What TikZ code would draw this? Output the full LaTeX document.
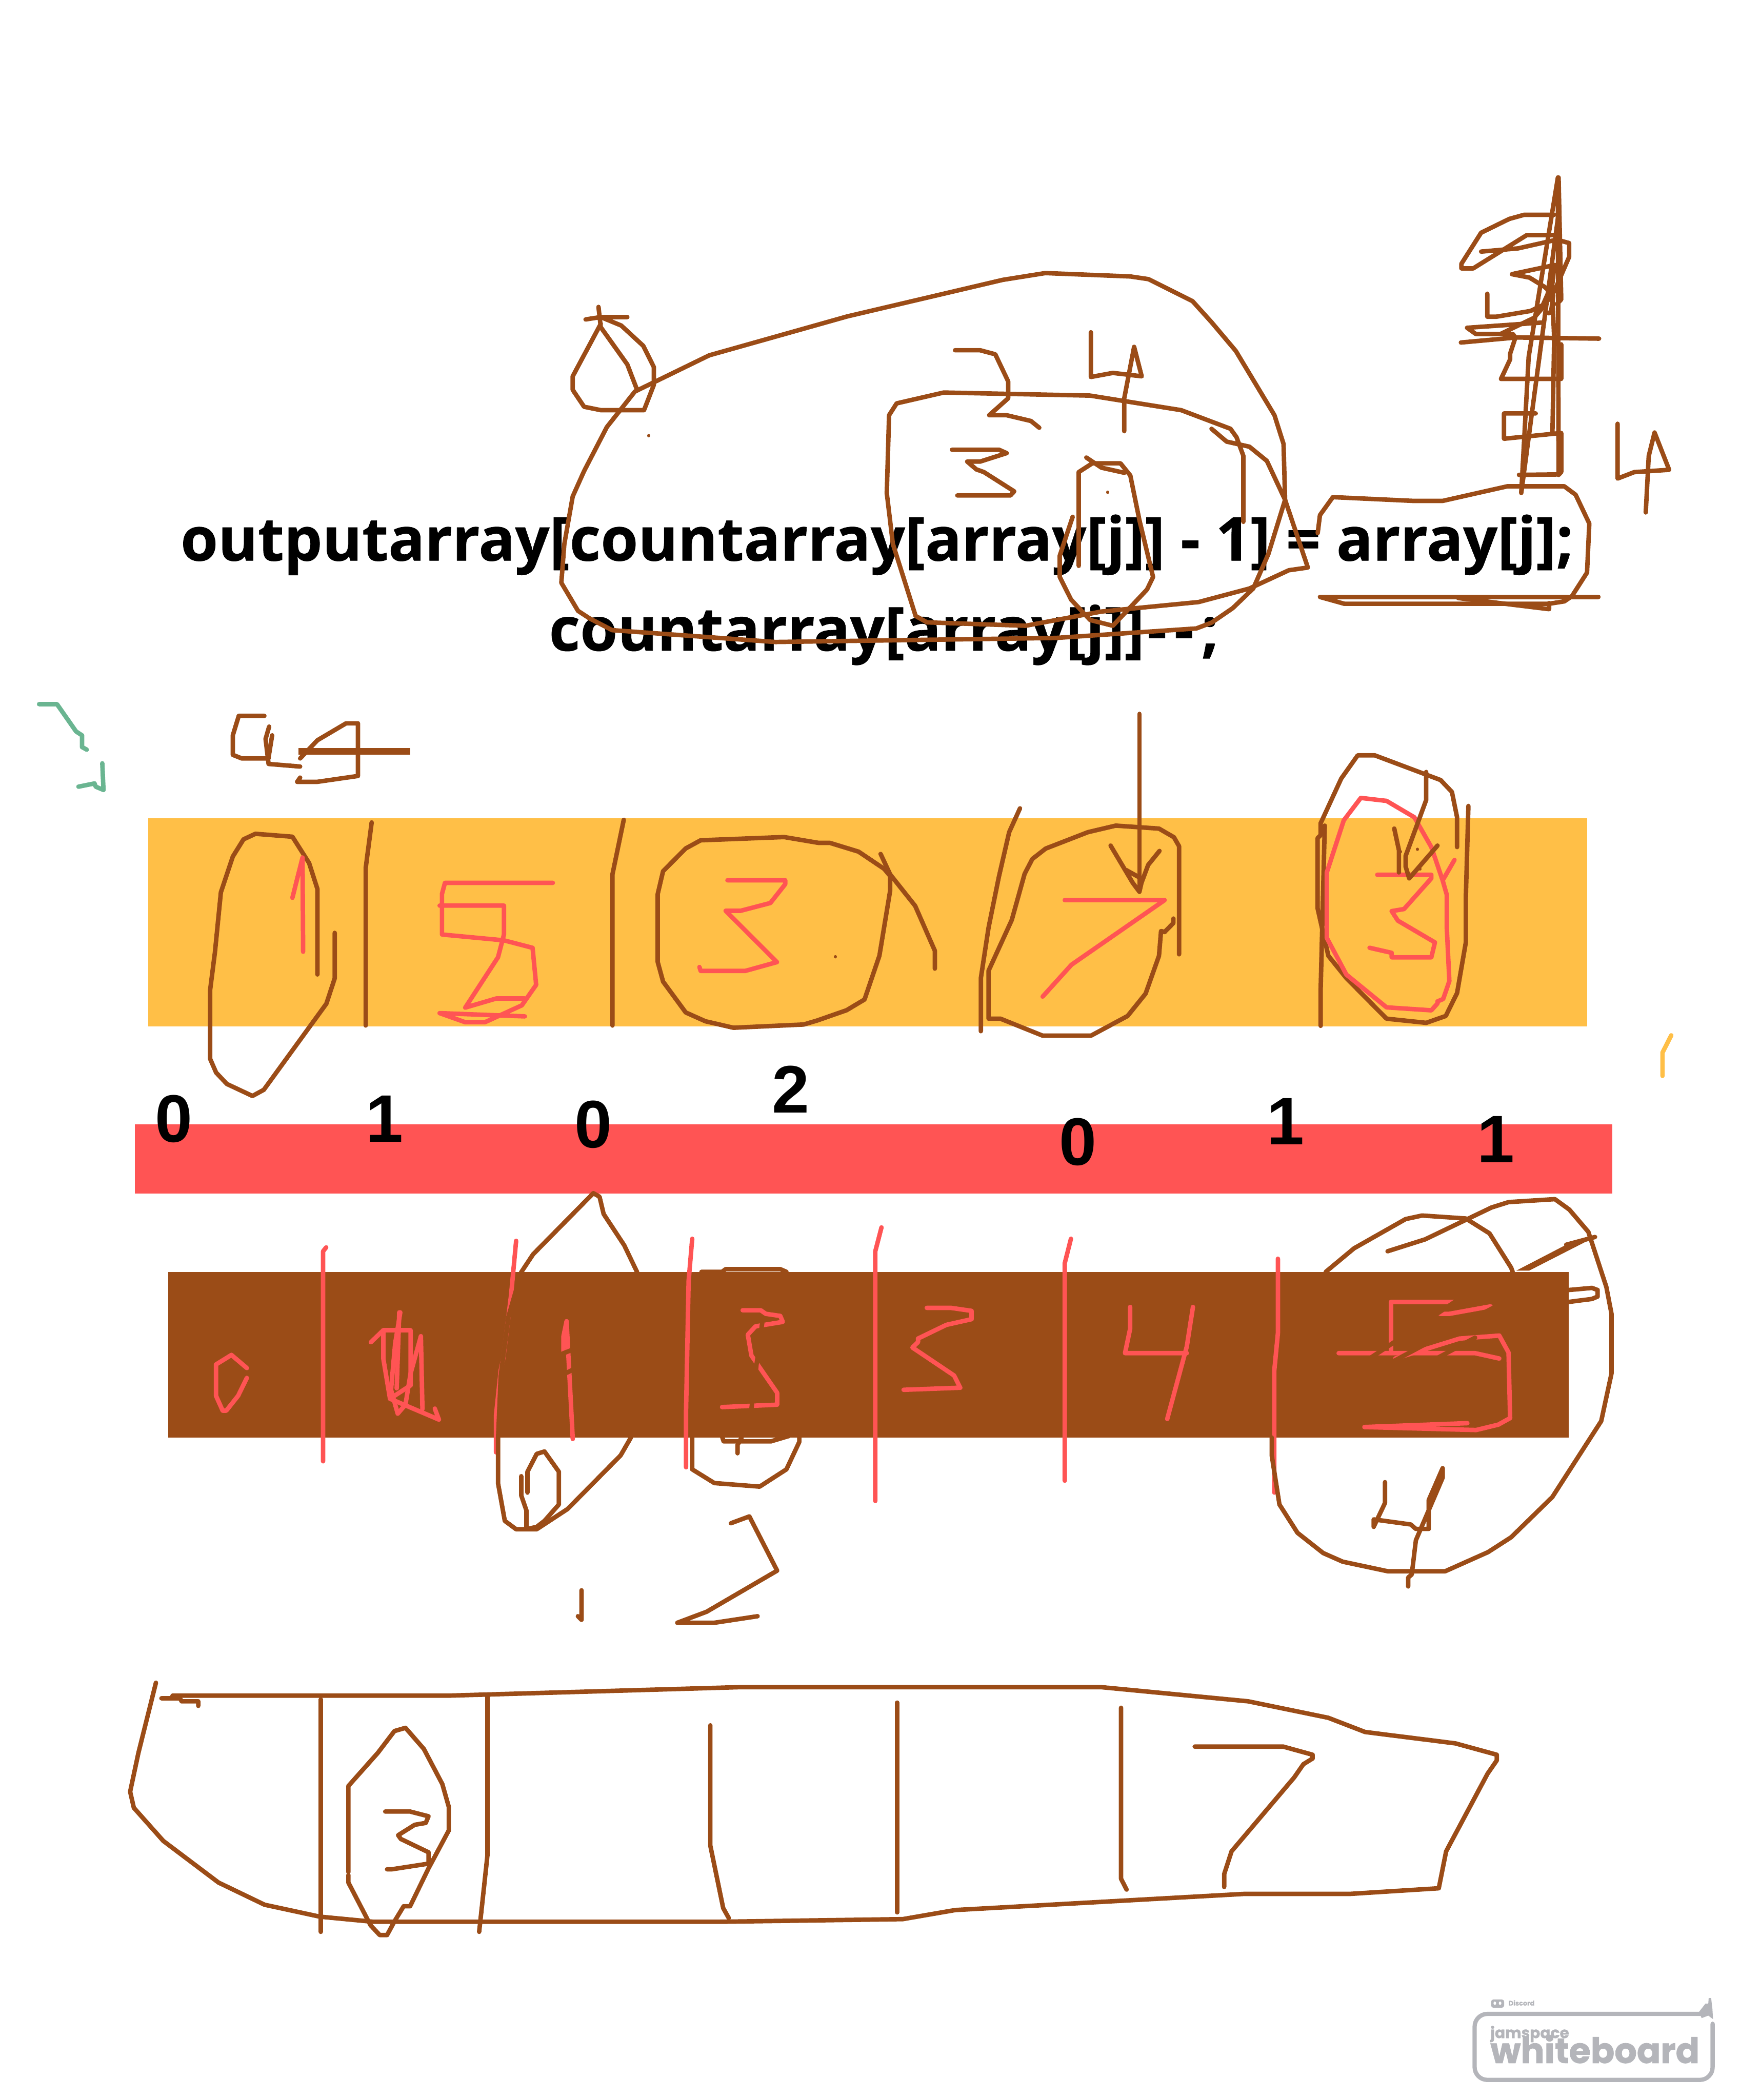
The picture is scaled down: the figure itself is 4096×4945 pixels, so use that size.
\documentclass[tikz,border=0pt]{standalone}
\usepackage{fontspec}
\newfontfamily\codefont[BoldFeatures={FakeBold=0.6}]{Open Sans}
\newfontfamily\digitfont{Liberation Sans}
\newfontfamily\logofont[BoldFeatures={FakeBold=1.2}]{Poppins}
\definecolor{penB}{RGB}{155,76,23}
\definecolor{penR}{RGB}{255,84,84}
\definecolor{penO}{RGB}{255,191,71}
\definecolor{penG}{RGB}{106,181,145}
\definecolor{logoG}{RGB}{180,181,186}
\tikzset{
  brushB/.style={draw=penB, line width=0.105cm, line cap=round, line join=round},
  brushR/.style={draw=penR, line width=0.105cm, line cap=round, line join=round},
  brushG/.style={draw=penG, line width=0.105cm, line cap=round, line join=round},
  brushO/.style={draw=penO, line width=0.105cm, line cap=round, line join=round},
  speck/.style={draw=penB, line width=0.07cm, line cap=round},
  codeline/.style={inner sep=0pt, anchor=base, font=\codefont\bfseries\fontsize{40.5}{50}\selectfont},
  tally/.style={inner sep=0pt, font=\digitfont\bfseries\fontsize{45}{54}\selectfont},
  % each zone takes the pixel numbers of one part of the sheet
  topzone/.style={shift={(1200,380)}, xscale=1.786, yscale=0.797},
  towerzone/.style={shift={(3350,380)}, xscale=0.4145, yscale=0.542},
  leftzone/.style={shift={(50,1600)}, xscale=1.403, yscale=0.765},
  rightzone/.style={shift={(2200,1700)}, xscale=1.212, yscale=0.7015},
  midleft/.style={shift={(300,2750)}, xscale=1.212, yscale=0.7015},
  midright/.style={shift={(2000,2750)}, xscale=1.212, yscale=0.7015},
  lowzone/.style={shift={(250,3900)}, xscale=2.168, yscale=0.446},
  logozone/.style={shift={(3400,4660)}, xscale=0.444, yscale=0.3314},
}
\begin{document}
\begin{tikzpicture}[x=0.01cm, y=-0.01cm]
\useasboundingbox (0,0) rectangle (4096,4945);
% the three bars
\fill[penO] (349,1927) rectangle (3737,2417);
\fill[penR] (317,2647) rectangle (3796,2811);
\fill[penB] (396,2995) rectangle (3693,3385);
% code lines
\node[codeline] (codeA) at (2065,1320) {outputarray[countarray[array[j]] - 1] = array[j];};
\node[codeline] (codeB) at (2081,1532) {countarray[array[j]]\kern2pt-\kern5pt-\kern5pt;};
% tallies on the red bar
\node[tally] (tallyA) at (409,2635) {0};
\node[tally] (tallyB) at (905,2635) {1};
\node[tally] (tallyC) at (1397,2648) {0};
\node[tally] (tallyD) at (1862,2565) {2};
\node[tally] (tallyE) at (2537,2689) {0};
\node[tally] (tallyF) at (3026,2641) {1};
\node[tally] (tallyG) at (3521,2683) {1};
% scribbles over the code
\begin{scope}[topzone]
\draw[brushB] (117,430) -- (120,490) -- (155,600) -- (167,670);
\draw[brushB] (100,467) -- (120,460) -- (155,460);
\draw[brushB] (120,480) -- (83,635) -- (83,675) -- (98,725) -- (120,735) -- (177,735) -- (190,660) -- (190,608) -- (176,545) -- (147,485) -- (120,460);
\draw[brushB] (165,680) -- (263,573) -- (445,458) -- (650,350) -- (706,330) -- (818,340) -- (842,348) -- (900,413) -- (925,475) -- (957,560) -- (1008,750) -- (1020,835) -- (1022,1000) -- (1000,1160) -- (980,1262) -- (953,1320) -- (925,1363) -- (905,1380) -- (720,1408) -- (350,1420) -- (135,1385) -- (105,1350) -- (90,1328) -- (68,1245) -- (72,1130) -- (83,990) -- (98,915) -- (128,785) -- cycle;
\draw[brushB] (925,790) -- (945,828) -- (975,843) -- (998,885) -- (1022,1000) -- (1052,1200) -- (1027,1208) -- (975,1262) -- (908,1302) -- (780,1330) -- (680,1372) -- (550,1362) -- (535,1343) -- (505,1130) -- (497,980) -- (500,750) -- (510,715) -- (572,683) -- (765,692) -- (885,735) -- (950,790) -- (958,815) -- (967,870) -- (967,1065);
\draw[brushB] (760,875) -- (780,905) -- (810,920);
\draw[brushB] (750,1195) -- (750,918) -- (768,892) -- (805,892) -- (818,928) -- (830,1060) -- (848,1228) -- (840,1265) -- (795,1372) -- (765,1355) -- (740,1295) -- (725,1228) -- (725,1165) -- (742,1050);
\draw[brushB] (587,558) -- (620,558) -- (640,570) -- (657,650) -- (657,700) -- (632,750) -- (655,750) -- (687,767) -- (698,787);
\draw[brushB] (766,505) -- (766,637) -- (795,625) -- (833,635) -- (823,548) -- (810,700) -- (810,797);
\draw[brushB] (583,852) -- (645,852) -- (655,862) -- (620,887) -- (603,887) -- (615,910) -- (625,918) -- (665,975) -- (660,987) -- (590,987);
\draw[speck] (183,810) -- (183,811);
\draw[speck] (788,977) -- (788,978);
\draw[brushB] (1065,1098) -- (1068,1045) -- (1085,992) -- (1190,1003) -- (1230,1003) -- (1315,960) -- (1390,960) -- (1405,985) -- (1423,1070) -- (1420,1215) -- (1400,1285) -- (1390,1300) -- (1370,1307) -- (1100,1307) -- (1068,1287) -- (1435,1287);
\draw[brushB] (1250,1290) -- (1370,1323) -- (1370,1305);
\end{scope}
% the tower of numbers, top right
\begin{scope}[towerzone]
\draw[brushB] (558,1440) -- (600,850) -- (766,70) -- (770,1360) -- (545,1362);
\draw[brushB] (558,1440) -- (770,225);
\draw[brushB] (770,70) -- (785,600) -- (760,620);
\draw[brushB] (785,795) -- (785,945) -- (443,945) -- (495,860) -- (495,835) -- (525,765) -- (510,750) -- (300,750) -- (250,723) -- (680,700);
\draw[brushB] (745,232) -- (575,232) -- (490,250) -- (330,310) -- (218,445) -- (218,465) -- (285,465) -- (590,320) -- (760,320);
\draw[brushB] (330,392) -- (540,378) -- (760,340) -- (830,355) -- (830,415) -- (745,565) -- (675,640) -- (630,680) -- (440,750);
\draw[brushB] (750,450) -- (505,490) -- (605,505) -- (690,545) -- (740,580) -- (728,650) -- (715,660);
\draw[brushB] (365,575) -- (365,675) -- (415,675) -- (610,650) -- (680,625) -- (735,530) -- (745,460);
\draw[brushB] (215,787) -- (530,765) -- (1000,770);
\draw[brushB] (640,1095) -- (460,1095) -- (460,1205) -- (785,1180) -- (785,1350) -- (770,1362);
\draw[brushB] (735,1180) -- (745,770) -- (730,500);
\draw[brushB] (1105,1140) -- (1105,1378) -- (1200,1350) -- (1398,1340) -- (1315,1178) -- (1282,1280) -- (1265,1525);
\end{scope}
% left part of the orange bar
\begin{scope}[leftzone]
\draw[brushG] (30,76) -- (60,76) -- (92,160) -- (102,172) -- (102,208) -- (110,216);
\draw[brushG] (136,258) -- (138,340) -- (125,330) -- (123,320) -- (96,330);
\draw[brushB] (408,112) -- (365,112) -- (355,172) -- (355,232) -- (370,243) -- (415,243);
\draw[brushB] (416,145) -- (410,183) -- (415,260) -- (468,268);
\draw[brushB] (421,172) -- (415,240);
\draw[brushB] (468,243) -- (497,187) -- (545,135) -- (565,135) -- (565,297) -- (497,315) -- (463,315) -- (468,302);
\draw[brushB, line width=0.16cm, line cap=butt] (465,221) -- (653,221);
\draw[brushB] (497,908) -- (497,645) -- (483,565) -- (455,484) -- (393,475) -- (373,492) -- (355,545) -- (335,655) -- (325,840) -- (317,955) -- (317,1168) -- (327,1210) -- (345,1245) -- (388,1282) -- (407,1263) -- (512,998) -- (526,920) -- (526,780);
\draw[brushR] (455,672) -- (472,548) -- (473,838);
\draw[brushB] (588,440) -- (578,580) -- (578,1065);
\draw[brushB] (1011,432) -- (992,600) -- (992,1065);
\draw[brushR] (892,626) -- (711,626) -- (706,660) -- (706,785) -- (810,803) -- (858,826) -- (864,940) -- (840,1003) -- (778,1055) -- (745,1055) -- (702,1027) -- (845,1037);
\draw[brushR] (702,696) -- (810,696) -- (810,785) -- (800,855) -- (745,1010) -- (797,982) -- (845,982);
\draw[brushB] (1140,495) -- (1280,485) -- (1338,503) -- (1357,503) -- (1405,530) -- (1448,583) -- (1458,605) -- (1458,650) -- (1440,850) -- (1415,985) -- (1385,1018) -- (1335,1050) -- (1313,1062) -- (1195,1072) -- (1148,1052) -- (1115,1025) -- (1077,930) -- (1068,870) -- (1068,660) -- (1077,590) -- (1115,520) -- cycle;
\draw[brushB] (1442,537) -- (1458,600) -- (1500,697) -- (1533,835) -- (1533,890);
\draw[brushR] (1185,618) -- (1282,618) -- (1282,630) -- (1257,688) -- (1207,712) -- (1182,712) -- (1268,870) -- (1215,897) -- (1140,897) -- (1138,885);
\draw[speck] (1366,853) -- (1366,854);
\end{scope}
% right part of the orange bar
\begin{scope}[rightzone]
\draw[brushB] (166,290) -- (145,370) -- (125,520) -- (105,690) -- (90,860) -- (90,1038);
\draw[brushR] (253,598) -- (447,598) -- (266,815) -- (210,922);
\draw[brushB] (464,660) -- (464,675) -- (447,705) -- (440,702) -- (436,785) -- (410,912) -- (375,987) -- (304,1053) -- (210,1053) -- (128,996) -- (105,996) -- (105,835) -- (150,665) -- (175,510) -- (190,460) -- (216,425) -- (298,370) -- (352,348) -- (436,358) -- (465,387) -- (475,417) -- (475,780);
\draw[brushB] (398,-27) -- (398,570);
\draw[brushB] (342,415) -- (385,540) -- (398,570) -- (402,540) -- (415,480) -- (437,433);
\draw[brushB] (372,497) -- (398,522);
\draw[brushB] (1015,420) -- (1015,320) -- (1005,235) -- (983,195) -- (855,112) -- (822,112) -- (790,190) -- (750,340) -- (750,380) -- (744,390) -- (744,625) -- (755,710) -- (765,785) -- (800,860) -- (878,996) -- (955,1010) -- (993,987) -- (1015,910) -- (1032,740) -- (1032,590) -- (1037,282);
\draw[brushB] (758,348) -- (750,900) -- (750,1020);
\draw[brushR] (1010,463) -- (987,532) -- (995,580) -- (995,690) -- (1000,870) -- (988,930) -- (977,938) -- (977,945) -- (965,968) -- (878,958) -- (800,848) -- (762,725) -- (762,505) -- (795,330) -- (828,255) -- (878,265) -- (932,320) -- (965,420) -- (987,532);
\draw[brushR] (860,513) -- (965,513) -- (965,525) -- (912,628) -- (888,635) -- (900,667) -- (972,740) -- (965,790) -- (888,790) -- (888,775) -- (845,758);
\draw[brushB] (893,358) -- (902,430) -- (902,505);
\draw[brushB] (955,168) -- (955,262) -- (915,450) -- (915,485) -- (922,525) -- (977,415);
\draw[speck] (905,435) -- (905,436);
\draw[speck] (938,427) -- (938,428);
\draw[speck] (943,493) -- (943,494);
\draw[brushO] (1431,1052) -- (1414,1110) -- (1414,1188);
\end{scope}
% left part of the brown bar
\begin{scope}[midleft]
\draw[brushR] (232,672) -- (202,628) -- (172,660) -- (172,765) -- (185,815) -- (192,815) -- (215,765) -- (232,705);
\draw[brushR] (386,267) -- (380,280) -- (380,985);
\draw[brushR] (473,585) -- (497,545) -- (550,545) -- (550,730) -- (510,775) -- (605,845) -- (597,808);
\draw[brushR] (530,485) -- (520,590) -- (512,745) -- (525,825) -- (540,795) -- (550,690) -- (570,565) -- (573,810);
\draw[brushR] (497,545) -- (497,640) -- (510,775);
\draw[brushR] (528,485) -- (523,740);
\draw[brushR] (755,245) -- (745,430) -- (730,640) -- (725,680) -- (716,830) -- (716,955);
\draw[brushR] (853,515) -- (847,565) -- (847,620);
\draw[brushR] (853,515) -- (865,910);
\draw[brushB] (843,625) -- (865,610);
\draw[brushB] (853,688) -- (868,675);
\draw[brushB] (765,350) -- (788,290) -- (905,85) -- (917,97) -- (925,155) -- (965,260) -- (990,350);
\draw[brushB] (765,350) -- (740,500) -- (725,700) -- (720,905) -- (720,1060) -- (733,1185) -- (755,1213) -- (795,1213) -- (855,1145) -- (958,965) -- (978,905);
\draw[brushB] (777,1090) -- (777,1020) -- (795,960) -- (810,952) -- (838,1020) -- (838,1130) -- (810,1185) -- (795,1205) -- (775,1213) -- (775,1150) -- (765,1100) -- (765,1035);
\draw[brushR] (1097,238) -- (1090,380) -- (1085,820) -- (1085,1005);
\draw[brushB] (1115,349) -- (1155,349) -- (1162,340) -- (1268,340) -- (1280,349);
\draw[brushB] (1097,905) -- (1097,1012) -- (1140,1058) -- (1228,1070) -- (1280,1012) -- (1305,920) -- (1305,905);
\draw[brushB] (1150,875) -- (1158,918) -- (1250,918) -- (1285,900);
\draw[brushB] (1193,905) -- (1185,930) -- (1185,958);
\draw[brushR] (1195,478) -- (1230,478) -- (1240,490) -- (1268,497) -- (1273,517) -- (1220,532) -- (1205,560) -- (1212,630) -- (1262,755) -- (1262,795) -- (1155,803);
\draw[brushB] (1233,520) -- (1222,660) -- (1212,810);
\draw[brushB] (1172,1193) -- (1208,1170) -- (1262,1352) -- (1125,1490) -- (1068,1527) -- (1140,1527) -- (1224,1505);
\draw[brushB] (882,1418) -- (882,1517) -- (875,1505);
\end{scope}
% right part of the brown bar
\begin{scope}[midright]
\draw[brushR] (50,1118) -- (50,280) -- (62,200);
\draw[brushR] (150,470) -- (197,470) -- (237,480) -- (237,508) -- (188,527) -- (133,573) -- (133,585) -- (122,603) -- (203,697) -- (215,738) -- (105,745);
\draw[brushR] (430,238) -- (418,320) -- (418,1050);
\draw[brushR] (545,467) -- (545,540) -- (535,622) -- (655,622);
\draw[brushR] (667,467) -- (655,600) -- (617,843);
\draw[brushR] (832,305) -- (832,555) -- (825,680) -- (825,1090);
\draw[brushB] (820,905) -- (820,965) -- (835,1130) -- (870,1225) -- (920,1293) -- (958,1322) -- (1045,1354) -- (1157,1354) -- (1240,1290) -- (1285,1240) -- (1365,1105) -- (1460,850) -- (1480,690) -- (1480,490) -- (1470,400) -- (1435,215) -- (1398,140) -- (1370,105) -- (1280,115) -- (1247,133) -- (1118,240) -- (1045,280);
\draw[brushB] (925,349) -- (980,270) -- (1080,172) -- (1112,160) -- (1197,170) -- (1243,220) -- (1285,335) -- (1288,349);
\fill[penB] (1295,345) -- (1392,258) -- (1448,232) -- (1320,345) -- cycle;
\draw[brushB] (1392,258) -- (1448,232);
\draw[brushB] (1397,410) -- (1442,403) -- (1453,410) -- (1453,432) -- (1442,440) -- (1397,450);
\draw[brushR] (1175,450) -- (1052,450) -- (1052,620);
\draw[brushR] (950,622) -- (1215,622) -- (1262,640);
\draw[brushR] (1262,563) -- (1185,573) -- (1060,640);
\draw[brushR] (1262,563) -- (1280,620) -- (1283,840) -- (1260,862) -- (1217,880) -- (1000,870) -- (1200,857);
\draw[brushR] (1147,490) -- (1165,490) -- (1245,465);
\draw[brushB] (1010,640) -- (1180,445);
\draw[brushB] (1050,655) -- (1250,470);
\draw[brushB] (1140,640) -- (1215,570);
\draw[brushB] (1040,1055) -- (1040,1125) -- (1018,1205) -- (1018,1180) -- (1090,1197) -- (1100,1212) -- (1125,1212) -- (1125,1115) -- (1152,1008) -- (1152,1040) -- (1100,1250) -- (1092,1365) -- (1085,1375) -- (1085,1405);
\end{scope}
% the long outline at the bottom
\begin{scope}[lowzone]
\draw[brushB] (72,208) -- (372,208) -- (690,163) -- (1080,163) -- (1240,238) -- (1327,325) -- (1367,400) -- (1465,460) -- (1510,520) -- (1510,550) -- (1500,620) -- (1455,1030) -- (1447,1225) -- (1350,1255) -- (1235,1255) -- (922,1340) -- (865,1388) -- (665,1402) -- (290,1402) -- (232,1375) -- (172,1312) -- (122,1195) -- (62,975) -- (30,800) -- (26,715) -- (35,510) -- (54,140);
\draw[brushB] (60,222) -- (80,222) -- (82,238) -- (100,238) -- (100,262);
\draw[brushB] (233,228) -- (233,1455);
\draw[brushB] (414,210) -- (414,1050) -- (405,1455);
\draw[brushB] (656,365) -- (656,1000) -- (670,1330) -- (676,1382);
\draw[brushB] (859,245) -- (859,1352);
\draw[brushB] (1102,272) -- (1102,1175) -- (1108,1232);
\draw[brushB] (1182,477) -- (1278,477) -- (1310,520) -- (1310,540) -- (1300,570) -- (1290,640) -- (1222,1030) -- (1214,1150) -- (1214,1218);
\draw[brushB] (263,1140) -- (263,685) -- (295,510) -- (313,395) -- (325,378) -- (345,490) -- (365,675) -- (372,795) -- (372,920) -- (350,1120) -- (330,1320) -- (323,1320) -- (313,1400) -- (305,1472) -- (297,1472) -- (287,1420) -- (263,1195) -- (263,1155);
\draw[brushB] (303,820) -- (330,820) -- (350,845) -- (347,880) -- (335,890) -- (317,945) -- (320,965) -- (350,1035) -- (350,1095) -- (310,1125) -- (305,1125);
\end{scope}
% watermark
\begin{scope}[logozone]
\draw[logoG, line width=0.10cm, line cap=round, rounded corners=0.3cm] (1423,318) -- (1423,717) -- (161,717) -- (161,248) -- (1360,248);
\fill[logoG, rounded corners=0.06cm] (248,145) -- (318,145) -- (318,205) -- (248,205) -- cycle;
\fill[white] (268,172) ellipse (7 and 12);
\fill[white] (296,172) ellipse (7 and 12);
\fill[logoG] (1350,235) -- (1385,175) -- (1400,175) -- (1402,135) -- (1415,135) -- (1422,215) -- (1425,285) -- (1400,260) -- (1365,278) -- cycle;
\node[inner sep=0pt, anchor=west, text=logoG, font=\logofont\bfseries\fontsize{4.4}{5}\selectfont] (logoA) at (340,170) {Discord};
\node[inner sep=0pt, anchor=base west, text=logoG, font=\logofont\bfseries\fontsize{10.2}{12}\selectfont] (logoB) at (243,420) {jamspace};
\node[inner sep=0pt, anchor=base west, text=logoG, font=\logofont\bfseries\fontsize{23.5}{26}\selectfont] (logoC) at (243,597) {whiteboard};
\end{scope}
\end{tikzpicture}
\end{document}
